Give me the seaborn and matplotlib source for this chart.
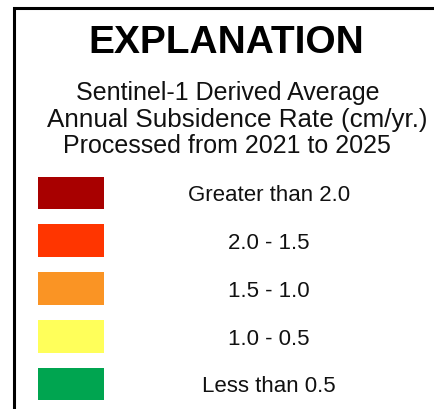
import numpy as np
import matplotlib.pyplot as plt
from matplotlib.colors import ListedColormap
from matplotlib.patches import Rectangle
import seaborn as sns

sns.set_theme(style='white')
plt.rcParams['font.family'] = ['Liberation Sans', 'DejaVu Sans']

TITLE = 'EXPLANATION'
SUBTITLE = ['Sentinel-1 Derived Average',
            'Annual Subsidence Rate (cm/yr.)',
            'Processed from 2021 to 2025']
class_labels = ['Greater than 2.0', '2.0 - 1.5', '1.5 - 1.0', '1.0 - 0.5', 'Less than 0.5']
class_colors = ['#A80000', '#FF3500', '#FA9424', '#FFFF5A', '#00A550']

W, H = 435, 409
fig = plt.figure(figsize=(W / 100, H / 100), dpi=100)

# frame (right and bottom edges run off the crop)
fig.add_artist(Rectangle((14.5 / W, -0.2), 2, 1.2 - 7.5 / H, transform=fig.transFigure,
                         fill=False, edgecolor='black', linewidth=2.2, clip_on=False))

fig.text(226 / W, 1 - 53 / H, TITLE, ha='center', va='baseline',
         fontsize=28, fontweight='bold', color='black')
for line, xc, base, fs in zip(SUBTITLE, [227.5, 237.5, 226.5], [100, 126.5, 152.7],
                              [18, 18.7, 18]):
    fig.text(xc / W, 1 - base / H, line, ha='center', va='baseline',
             fontsize=fs, color='#111111')

# swatches: one-column heatmap of class codes, white grid makes the gaps
ax = fig.add_axes([29.6 / W, 1.6 / H, 81.7 / W, 238.8 / H])
codes = np.arange(len(class_labels)).reshape(-1, 1)
sns.heatmap(codes, cmap=ListedColormap(class_colors), cbar=False,
            linewidths=10.6, linecolor='white',
            xticklabels=False, yticklabels=False, ax=ax)
for i, lab in enumerate(class_labels):
    ax.text(2.93, i + 0.52, lab, ha='center', va='center_baseline',
            fontsize=16, color='#111111', clip_on=False)

fig.savefig('out.png', dpi=100)
